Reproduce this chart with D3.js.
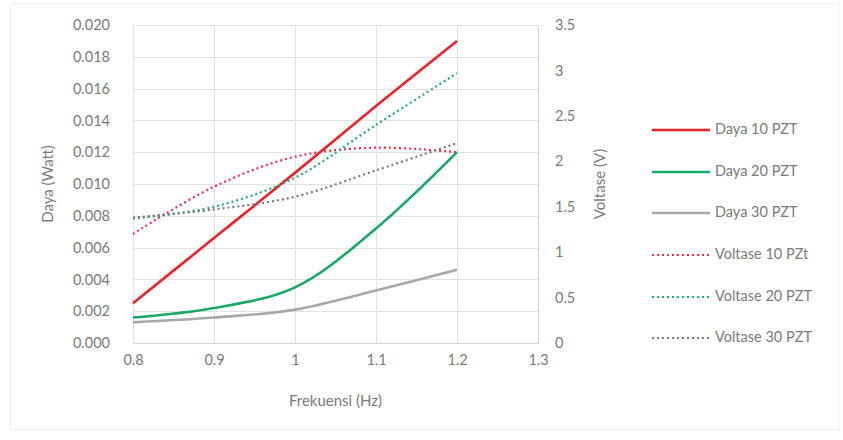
<!DOCTYPE html>
<html>
<head>
<meta charset="utf-8">
<script src="https://cdn.jsdelivr.net/npm/d3@7"></script>
<style>
  html, body { margin: 0; padding: 0; background: #ffffff; }
  svg { display: block; }
  text { font-family: Lato, "Open Sans", sans-serif; fill: #7a7a7a; }
</style>
</head>
<body>
<svg id="chart" width="843" height="440"></svg>
<script>
// Frequencies (Hz)
const frekuensi = [0.8, 0.9, 1.0, 1.1, 1.2];

// Power (Watt), left axis
const daya10 = [0.0025, 0.0066, 0.0107, 0.0149, 0.0190];
const daya20 = [0.0016, 0.0022, 0.0035, 0.0072, 0.0120];
const daya30 = [0.0013, 0.0016, 0.0021, 0.0033, 0.0046];

// Voltage (V), right axis
const voltase10 = [1.20, 1.72, 2.05, 2.15, 2.10];
const voltase20 = [1.37, 1.50, 1.82, 2.40, 2.97];
const voltase30 = [1.38, 1.47, 1.61, 1.90, 2.20];

// Tick values
const xTicks = [0.8, 0.9, 1.0, 1.1, 1.2, 1.3];
const yLeftTicks = d3.range(0, 0.0201, 0.002);
const yRightTicks = [0, 0.5, 1, 1.5, 2, 2.5, 3, 3.5];

const seriesNames = ["Daya 10 PZT", "Daya 20 PZT", "Daya 30 PZT",
                     "Voltase 10 PZt", "Voltase 20 PZT", "Voltase 30 PZT"];

const series = [
  { name: seriesNames[0], values: daya10,    axis: "left",  color: "#e8232b", dotted: false },
  { name: seriesNames[1], values: daya20,    axis: "left",  color: "#1aa866", dotted: false },
  { name: seriesNames[2], values: daya30,    axis: "left",  color: "#a8a8a8", dotted: false },
  { name: seriesNames[3], values: voltase10, axis: "right", color: "#e8314a", dotted: true },
  { name: seriesNames[4], values: voltase20, axis: "right", color: "#22ad6e", dotted: true },
  { name: seriesNames[5], values: voltase30, axis: "right", color: "#7d7680", dotted: true }
];

const svg = d3.select("#chart");

const plot = { left: 133, right: 538, top: 25, bottom: 343 };

const x = d3.scaleLinear().domain([0.8, 1.3]).range([plot.left, plot.right]);
const yL = d3.scaleLinear().domain([0, 0.020]).range([plot.bottom, plot.top]);
const yR = d3.scaleLinear().domain([0, 3.5]).range([plot.bottom, plot.top]);

// faint outer frame
svg.append("rect")
  .attr("x", 10.5).attr("y", 3.5).attr("width", 829).attr("height", 426)
  .attr("fill", "none").attr("stroke", "#eef3f4").attr("stroke-width", 1.5);

// gridlines
const grid = svg.append("g");
grid.selectAll("line.h").data(yLeftTicks).join("line")
  .attr("x1", plot.left).attr("x2", plot.right)
  .attr("y1", d => Math.round(yL(d)) + 0.5).attr("y2", d => Math.round(yL(d)) + 0.5)
  .attr("stroke", "#e2e2e2").attr("stroke-width", 1);
grid.selectAll("line.v").data(xTicks).join("line")
  .attr("y1", plot.top).attr("y2", plot.bottom)
  .attr("x1", d => Math.round(x(d)) + 0.5).attr("x2", d => Math.round(x(d)) + 0.5)
  .attr("stroke", "#e2e2e2").attr("stroke-width", 1);

// bottom axis
const xAxis = d3.axisBottom(x).tickValues(xTicks).tickSize(0).tickPadding(12)
  .tickFormat(d => d === 1 ? "1" : d3.format(".1f")(d));
const gx = svg.append("g").attr("transform", `translate(0,${plot.bottom})`).call(xAxis);
gx.select(".domain").attr("stroke", "#d4d4d4");
gx.selectAll("text").style("font-size", "14.5px").attr("fill", "#7a7a7a");

// left axis
const yAxisL = d3.axisLeft(yL).tickValues(yLeftTicks).tickSize(0).tickPadding(23)
  .tickFormat(d3.format(".3f"));
const gl = svg.append("g").attr("transform", `translate(${plot.left},0)`).call(yAxisL);
gl.select(".domain").remove();
gl.selectAll("text").style("font-size", "14.5px").attr("fill", "#7a7a7a");

// right axis
const yAxisR = d3.axisRight(yR).tickValues(yRightTicks).tickSize(0).tickPadding(17)
  .tickFormat(d => String(d));
const gr = svg.append("g").attr("transform", `translate(${plot.right},0)`).call(yAxisR);
gr.select(".domain").attr("stroke", "#d4d4d4");
gr.selectAll("text").style("font-size", "14.5px").attr("fill", "#7a7a7a");

// axis titles
svg.append("text")
  .attr("transform", `translate(49,${(plot.top + plot.bottom) / 2}) rotate(-90)`)
  .attr("text-anchor", "middle").attr("dominant-baseline", "middle")
  .style("font-size", "15px").text("Daya (Watt)");
svg.append("text")
  .attr("transform", `translate(601,${(plot.top + plot.bottom) / 2}) rotate(-90)`)
  .attr("text-anchor", "middle").attr("dominant-baseline", "middle")
  .style("font-size", "15px").text("Voltase (V)");
svg.append("text")
  .attr("x", (plot.left + plot.right) / 2).attr("y", 402)
  .attr("text-anchor", "middle").attr("dominant-baseline", "middle")
  .style("font-size", "15px").text("Frekuensi (Hz)");

// series lines (smoothed)
const lines = svg.append("g");
series.forEach(s => {
  const yS = s.axis === "left" ? yL : yR;
  const line = d3.line()
    .x((d, i) => x(frekuensi[i]))
    .y(d => yS(d))
    .curve(d3.curveCatmullRom.alpha(0.5));
  lines.append("path")
    .datum(s.values)
    .attr("d", line)
    .attr("fill", "none")
    .attr("stroke", s.color)
    .attr("stroke-width", s.dotted ? 2.2 : 2.6)
    .attr("stroke-dasharray", s.dotted ? "2,3" : null)
    .attr("stroke-linejoin", "round");
});

// legend
const legend = svg.append("g");
const rowY = [130, 172, 213, 255, 297, 338];
series.forEach((s, i) => {
  const g = legend.append("g").attr("transform", `translate(0,${rowY[i]})`);
  g.append("line")
    .attr("x1", 652).attr("x2", 710).attr("y1", 0).attr("y2", 0)
    .attr("stroke", s.color)
    .attr("stroke-width", s.dotted ? 2.2 : 2.6)
    .attr("stroke-dasharray", s.dotted ? "2,3" : null);
  g.append("text")
    .attr("x", 715).attr("y", 0)
    .attr("dominant-baseline", "middle")
    .style("font-size", "14.5px")
    .text(s.name);
});
</script>
</body>
</html>
